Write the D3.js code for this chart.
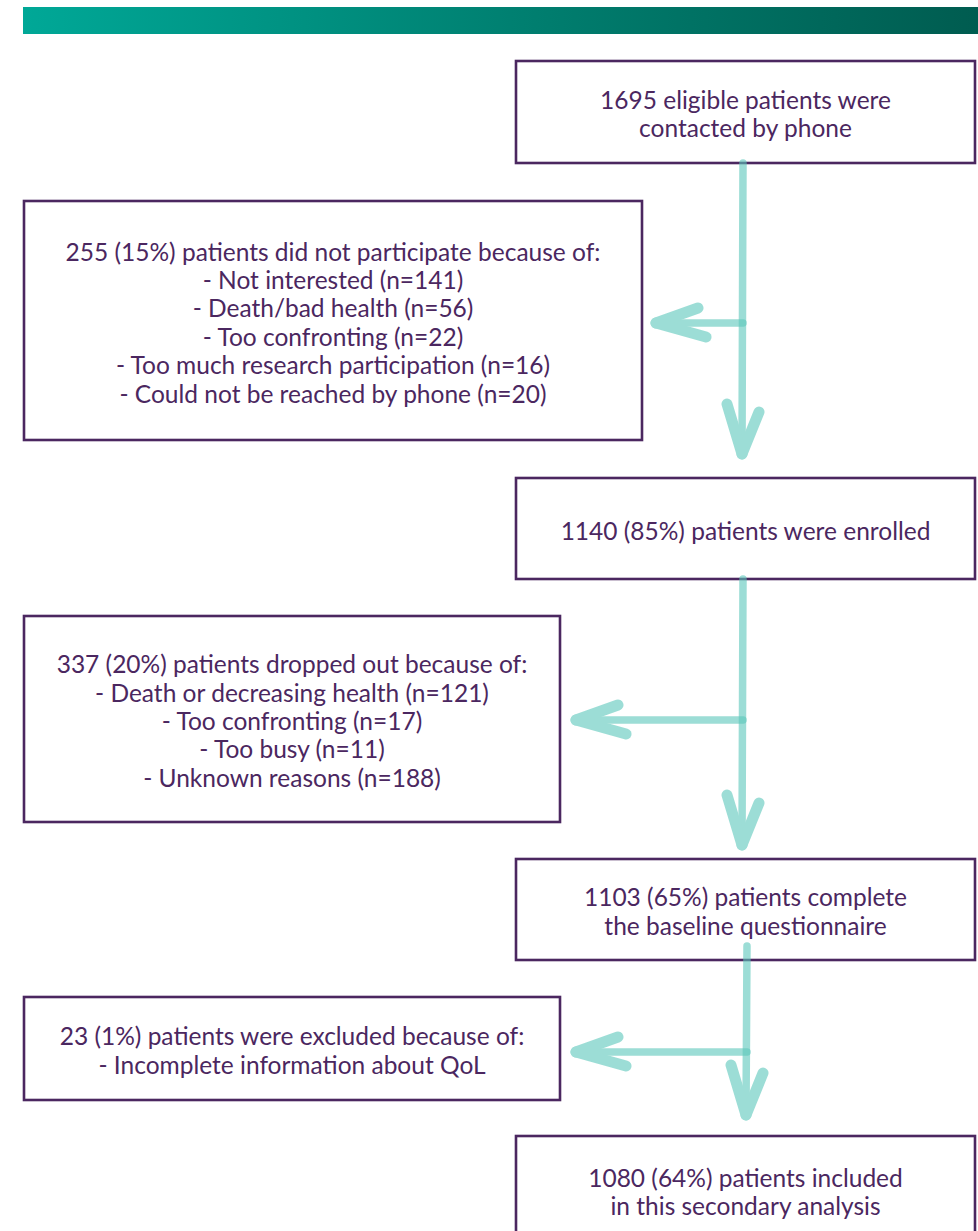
<!DOCTYPE html>
<html>
<head>
<meta charset="utf-8">
<script src="https://cdn.jsdelivr.net/npm/d3@7"></script>
<style>
  body { margin: 0; background: #fff; }
  svg { display: block; }
</style>
</head>
<body>
<div id="chart"></div>
<script>
// flow steps (main column, right)
const mainSteps = [
  ['1695 eligible patients were', 'contacted by phone'],
  ['1140 (85%) patients were enrolled'],
  ['1103 (65%) patients complete', 'the baseline questionnaire'],
  ['1080 (64%) patients included', 'in this secondary analysis'],
];

// drop-outs between steps (left column)
const exclusionTitles = [
  '255 (15%) patients did not participate because of:',
  '337 (20%) patients dropped out because of:',
  '23 (1%) patients were excluded because of:',
];
const exclusionReasons = [
  ['Not interested (n=141)', 'Death/bad health (n=56)', 'Too confronting (n=22)',
   'Too much research participation (n=16)', 'Could not be reached by phone (n=20)'],
  ['Death or decreasing health (n=121)', 'Too confronting (n=17)', 'Too busy (n=11)',
   'Unknown reasons (n=188)'],
  ['Incomplete information about QoL'],
];

const width = 978, height = 1231;
const purple = '#4b2760';
const teal = '#5cc8bb';
const lineH = 28.4;

// layout
const mainX = 516, mainW = 459;
const mainTop = [61, 478, 859, 1136];
const mainH = [102, 101, 101, 108];
const sideX = 24;
const sideTop = [201, 616, 997];
const sideW = [618, 536, 536];
const sideH = [239, 206, 103];
const shaftX = [743, 743, 747];
const shaftStart = [163, 579, 946];
const shaftEnd = [457, 848, 1118];
const branchY = [323, 720, 1052];
const branchTip = [653, 573, 573];

const svg = d3.select('#chart').append('svg')
  .attr('width', width)
  .attr('height', height)
  .attr('viewBox', [0, 0, width, height]);

const grad = svg.append('defs').append('linearGradient')
  .attr('id', 'bar-grad');
grad.append('stop').attr('offset', '0%').attr('stop-color', '#00a897');
grad.append('stop').attr('offset', '55%').attr('stop-color', '#007d6e');
grad.append('stop').attr('offset', '100%').attr('stop-color', '#005c50');

svg.append('rect')
  .attr('x', 23).attr('y', 7)
  .attr('width', width - 23).attr('height', 27)
  .attr('fill', 'url(#bar-grad)');

function drawBox(x, y, w, h, lines) {
  const g = svg.append('g');
  g.append('rect')
    .attr('x', x).attr('y', y)
    .attr('width', w).attr('height', h)
    .attr('fill', '#fff')
    .attr('stroke', purple)
    .attr('stroke-width', 2.6);
  const cy = y + h / 2 + 1.5;
  g.append('text')
    .attr('text-anchor', 'middle')
    .attr('font-family', 'Lato, "Open Sans", sans-serif')
    .attr('font-size', 24.5)
    .attr('fill', purple)
    .selectAll('tspan')
    .data(lines)
    .join('tspan')
    .attr('x', x + w / 2)
    .attr('y', (d, i) => cy + (i - (lines.length - 1) / 2) * lineH)
    .attr('dominant-baseline', 'central')
    .text((d) => d);
}

mainSteps.forEach((lines, i) => drawBox(mainX, mainTop[i], mainW, mainH[i], lines));
exclusionTitles.forEach((t, i) => {
  const lines = [t].concat(exclusionReasons[i].map((r) => '- ' + r));
  drawBox(sideX, sideTop[i], sideW[i], sideH[i], lines);
});

function drawArrow(from, tip, armA, armB) {
  const g = svg.append('g')
    .attr('opacity', 0.6)
    .attr('stroke', teal)
    .attr('stroke-linecap', 'round');
  g.append('line')
    .attr('x1', from[0]).attr('y1', from[1])
    .attr('x2', tip[0]).attr('y2', tip[1])
    .attr('stroke-width', 7.5);
  [armA, armB].forEach((a) => {
    g.append('line')
      .attr('x1', tip[0]).attr('y1', tip[1])
      .attr('x2', a[0]).attr('y2', a[1])
      .attr('stroke-width', 11);
  });
}

shaftX.forEach((x, i) => {
  const tipV = [x - 1, shaftEnd[i] - 3];
  drawArrow([x, shaftStart[i]], tipV, [tipV[0] - 15, tipV[1] - 50], [tipV[0] + 17, tipV[1] - 42]);
  const tipH = [branchTip[i] + 3, branchY[i]];
  drawArrow([x, branchY[i]], tipH, [tipH[0] + 42, tipH[1] - 15], [tipH[0] + 50, tipH[1] + 14]);
});
</script>
</body>
</html>
